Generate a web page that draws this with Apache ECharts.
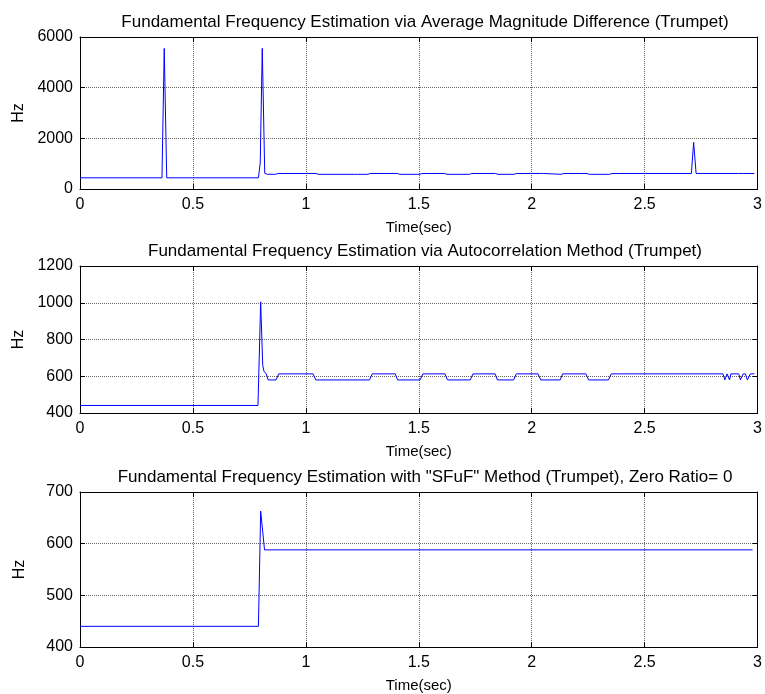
<!DOCTYPE html>
<html>
<head>
<meta charset="utf-8">
<script src="https://cdn.jsdelivr.net/npm/echarts@6/dist/echarts.min.js"></script>
<style>
html,body{margin:0;padding:0;background:#fff;}
#chart{width:765px;height:694px;}
</style>
</head>
<body>
<div id="chart"></div>
<script>
// ---- Data ----
const titles = [
  'Fundamental Frequency Estimation via Average Magnitude Difference (Trumpet)',
  'Fundamental Frequency Estimation via Autocorrelation Method (Trumpet)',
  'Fundamental Frequency Estimation with "SFuF" Method (Trumpet), Zero Ratio= 0'
];
const xTicks = [0, 0.5, 1, 1.5, 2, 2.5, 3];
const yRanges = [[0, 6000, 2000], [400, 1200, 200], [400, 700, 100]];

// AMDF estimate
const amdfTime = [0, 0.363, 0.373, 0.384, 0.79, 0.798, 0.807, 0.818, 0.83, 0.866, 0.876, 1.045, 1.055, 1.215, 1.222, 1.228, 1.235, 1.240, 1.275, 1.285, 1.405, 1.415, 1.505, 1.515, 1.615, 1.625, 1.725, 1.735, 1.840, 1.850, 1.922, 1.932, 2.040, 2.046, 2.052, 2.058, 2.130, 2.140, 2.245, 2.255, 2.345, 2.355, 2.707, 2.717, 2.728, 2.916, 2.924, 2.932, 2.986];
const amdfHz   = [441, 441, 5550, 441, 441, 1030, 5550, 620, 580, 580, 613, 613, 580, 580, 613, 580, 613, 580, 580, 613, 613, 580, 580, 613, 613, 580, 580, 613, 613, 580, 580, 613, 613, 560, 613, 580, 580, 613, 613, 580, 580, 613, 613, 1840, 613, 613, 580, 613, 613];

// Autocorrelation estimate
const acfTime = [0, 0.788, 0.800, 0.809, 0.815, 0.824, 0.833, 0.868, 0.880, 1.032, 1.044, 1.282, 1.294, 1.396, 1.406, 1.506, 1.518, 1.616, 1.627, 1.728, 1.740, 1.838, 1.848, 1.920, 1.932, 2.028, 2.040, 2.126, 2.137, 2.240, 2.252, 2.340, 2.352, 2.847, 2.855, 2.865, 2.876, 2.882, 2.917, 2.924, 2.936, 2.946, 2.955, 2.968, 2.986];
const acfHz   = [441, 441, 1005, 660, 625, 615, 580, 580, 613, 613, 580, 580, 613, 613, 580, 580, 613, 613, 580, 580, 613, 613, 580, 580, 613, 613, 580, 580, 613, 613, 580, 580, 613, 613, 580, 613, 580, 613, 613, 580, 613, 613, 580, 613, 613];

// SFuF estimate
const sfufTime = [0, 0.790, 0.800, 0.808, 0.817, 2.978];
const sfufHz   = [440, 440, 663, 663, 588, 588];

const seriesTimes = [amdfTime, acfTime, sfufTime];
const seriesHz = [amdfHz, acfHz, sfufHz];

// ---- Layout ----
const gridTops = [37, 266, 492];
const gridHeights = [152, 147, 155];
const FONT = '"Liberation Sans", Arial, sans-serif';

const grids = [], xAxes = [], yAxes = [], series = [], titleArr = [];
for (let i = 0; i < 3; i++) {
  grids.push({left: 80, right: 7, top: gridTops[i], height: gridHeights[i], show: false});
  titleArr.push({
    text: titles[i], left: 420, top: gridTops[i] - 28, textAlign: 'center',
    textStyle: {fontFamily: FONT, fontSize: 17, fontWeight: 'normal', color: '#000'}
  });
  const [ymin, ymax, yint] = yRanges[i];
  // bottom x
  xAxes.push({
    type: 'value', gridIndex: i, min: 0, max: 3, interval: 0.5, position: 'bottom',
    name: 'Time(sec)', nameLocation: 'middle', nameGap: 31,
    nameTextStyle: {fontFamily: FONT, fontSize: 15, color: '#000'},
    axisLine: {show: true, onZero: false, lineStyle: {color: '#000', width: 1}},
    axisTick: {show: true, inside: true, length: 5, lineStyle: {color: '#000'}},
    axisLabel: {show: true, margin: 8, fontFamily: FONT, fontSize: 16, color: '#000',
      formatter: v => xTicks.includes(v) ? String(v) : ''},
    splitLine: {show: true, lineStyle: {type: 'dotted', color: '#666666', width: 1}}
  });
  // top x (frame)
  xAxes.push({
    type: 'value', gridIndex: i, min: 0, max: 3, interval: 0.5, position: 'top',
    axisLine: {show: true, onZero: false, lineStyle: {color: '#000', width: 1}},
    axisTick: {show: true, inside: true, length: 5, lineStyle: {color: '#000'}},
    axisLabel: {show: false}, splitLine: {show: false}
  });
  // left y
  yAxes.push({
    type: 'value', gridIndex: i, min: ymin, max: ymax, interval: yint, position: 'left',
    name: 'Hz', nameLocation: 'middle', nameGap: 52, nameRotate: 90,
    nameTextStyle: {fontFamily: FONT, fontSize: 16, color: '#000'},
    axisLine: {show: true, onZero: false, lineStyle: {color: '#000', width: 1}},
    axisTick: {show: true, inside: true, length: 5, lineStyle: {color: '#000'}},
    axisLabel: {show: true, margin: 7, fontFamily: FONT, fontSize: 16, color: '#000',
      formatter: v => String(v)},
    splitLine: {show: true, lineStyle: {type: 'dotted', color: '#666666', width: 1}}
  });
  // right y (frame)
  yAxes.push({
    type: 'value', gridIndex: i, min: ymin, max: ymax, interval: yint, position: 'right',
    axisLine: {show: true, onZero: false, lineStyle: {color: '#000', width: 1}},
    axisTick: {show: true, inside: true, length: 5, lineStyle: {color: '#000'}},
    axisLabel: {show: false}, splitLine: {show: false}
  });
  series.push({
    type: 'line', xAxisIndex: 2 * i, yAxisIndex: 2 * i,
    data: seriesTimes[i].map((t, k) => [t, seriesHz[i][k]]),
    showSymbol: false, symbol: 'none', animation: false,
    lineStyle: {color: '#0000ff', width: 1}
  });
}

const chart = echarts.init(document.getElementById('chart'), null, {renderer: 'canvas'});
chart.setOption({
  backgroundColor: '#fff',
  animation: false,
  title: titleArr,
  grid: grids,
  xAxis: xAxes,
  yAxis: yAxes,
  series: series
});
</script>
</body>
</html>
